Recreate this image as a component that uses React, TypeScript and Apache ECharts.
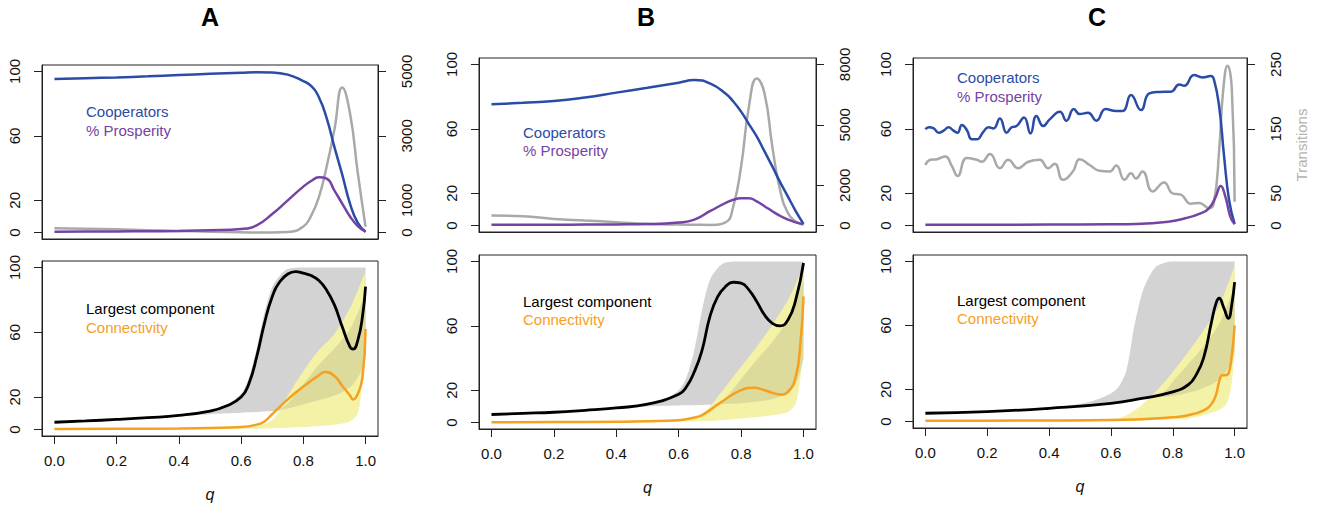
import { useEffect, useRef } from "react";
import * as echarts from "echarts";

// ---------- Top panels (left axis %, right axis transitions) ----------
const qA_top = [0, 0.1, 0.2, 0.3, 0.4, 0.5, 0.6, 0.65, 0.7, 0.75, 0.8, 0.825, 0.85, 0.875, 0.9, 0.925, 0.95, 0.975, 1.0];
const coopA = [95.3, 95.8, 96.3, 97, 97.8, 98.5, 99.2, 99.5, 99.4, 98, 94, 91, 84, 71, 53, 36, 18, 6, 0.5];
const prospA = [0.5, 0.6, 0.7, 0.8, 1, 1.4, 2.2, 4.5, 11.5, 20, 28.5, 32, 34.3, 33.5, 26, 18, 10, 4, 0.5];
const transA = [135, 120, 100, 75, 50, 25, 8, 3, 2, 15, 190, 520, 1100, 2050, 3200, 4500, 3700, 1850, 180];

const qB_top = [0, 0.1, 0.2, 0.3, 0.4, 0.5, 0.6, 0.65, 0.7, 0.75, 0.775, 0.8, 0.825, 0.85, 0.875, 0.9, 0.925, 0.95, 0.975, 1.0];
const coopB = [75.3, 76.2, 77.3, 79.5, 82.5, 85.5, 88.7, 90.3, 88.2, 82, 77, 70.7, 63, 55.3, 46, 36.7, 27, 18, 9, 1];
const prospB = [0.5, 0.5, 0.5, 0.6, 0.7, 0.9, 1.9, 3.7, 8.9, 14, 16, 16.9, 17, 15, 12, 8.9, 6, 3.7, 2, 1];
const transB = [496, 464, 328, 248, 168, 80, 48, 40, 32, 160, 960, 2936, 5904, 7304, 6560, 3920, 1760, 624, 200, 48];

const qC_coop = [0, 0.011, 0.027, 0.043, 0.059, 0.075, 0.091, 0.104, 0.118, 0.134, 0.15, 0.166, 0.188, 0.204, 0.22, 0.241, 0.263, 0.279, 0.295, 0.319, 0.34, 0.359, 0.381, 0.402, 0.435, 0.456, 0.48, 0.499, 0.526, 0.553, 0.583, 0.617, 0.638, 0.665, 0.697, 0.724, 0.756, 0.794, 0.821, 0.837, 0.869, 0.896, 0.923, 0.933, 0.95, 0.966, 0.982, 1.0];
const coopC = [59.7, 61.0, 60.3, 57.6, 58.9, 61.0, 58.9, 57.6, 62.4, 59.3, 53.5, 53.5, 58.3, 61.0, 60.3, 66.5, 57.6, 61.0, 61.8, 67.1, 57.2, 68.0, 61.8, 65.9, 70.7, 65.1, 72.3, 69.2, 70.0, 65.1, 72.3, 71.1, 71.1, 81.0, 71.7, 82.0, 82.9, 83.1, 87.6, 86.8, 93.4, 91.9, 92.8, 90.7, 73.8, 42.8, 15.9, 1.0];
const qC_trans = [0, 0.016, 0.038, 0.064, 0.086, 0.104, 0.134, 0.166, 0.182, 0.209, 0.241, 0.268, 0.3, 0.333, 0.37, 0.397, 0.418, 0.445, 0.477, 0.499, 0.531, 0.563, 0.596, 0.617, 0.644, 0.665, 0.681, 0.702, 0.735, 0.772, 0.799, 0.826, 0.858, 0.885, 0.917, 0.933, 0.95, 0.963, 0.977, 0.991, 1.0];
const transC = [94, 102, 103, 107, 92, 77, 105, 102, 99, 111, 89, 102, 89, 99, 102, 89, 96, 71, 84, 103, 94, 85, 84, 93, 71, 81, 73, 84, 53, 67, 50, 48, 34, 35, 27, 35, 117, 210, 248, 210, 37];
const qC_prosp = [0, 0.2, 0.4, 0.6, 0.68, 0.79, 0.84, 0.89, 0.917, 0.938, 0.955, 0.97, 0.986, 1.0];
const prospC = [0.5, 0.5, 0.6, 0.8, 1, 2.5, 4.5, 7.6, 10.7, 17.5, 24.5, 18, 5.6, 0.8];

// ---------- Bottom panels ----------
const qBand = [0, 0.1, 0.2, 0.3, 0.4, 0.5, 0.55, 0.6, 0.625, 0.65, 0.675, 0.7, 0.725, 0.75, 0.8, 0.85, 0.9, 0.95, 0.975, 0.99, 1.0];

const qA_lc = [0, 0.1, 0.2, 0.3, 0.4, 0.5, 0.55, 0.6, 0.625, 0.65, 0.675, 0.7, 0.725, 0.75, 0.775, 0.8, 0.825, 0.85, 0.875, 0.9, 0.925, 0.95, 0.96, 0.975, 0.99, 1.0];
const largestA = [4.5, 5.3, 6.2, 7.3, 8.7, 11.4, 14.3, 20, 28.3, 44.8, 65.5, 82, 91.3, 96, 97.5, 96.5, 95, 92, 86, 76.9, 63.4, 51, 49.6, 55, 69.6, 88.2];
const qA_con = [0, 0.2, 0.4, 0.5, 0.6, 0.65, 0.675, 0.7, 0.75, 0.8, 0.85, 0.87, 0.9, 0.925, 0.95, 0.96, 0.975, 0.99, 1.0];
const connA = [0.3, 0.4, 0.6, 0.9, 1.5, 3, 5, 9.5, 18.6, 26.5, 33.5, 35.5, 33, 27, 21, 18.5, 22, 32, 62];
const grayLoA = [4.5, 5.2, 6, 7, 8.2, 9.5, 10, 10.4, 10.6, 10.8, 11.1, 11.4, 11.8, 12.3, 13.4, 15, 17, 22, 28, 36, 47];
const grayHiA = [4.7, 5.5, 6.4, 7.6, 9.2, 12, 15, 22, 32, 50, 72, 88, 95, 99, 100, 100, 100, 100, 100, 100, 100];
const yelLoA = [0, 0, 0, 0, 0.1, 0.2, 0.3, 0.4, 0.45, 0.5, 0.6, 0.8, 0.9, 1.1, 1.5, 2.2, 3, 5, 10, 30, 45];
const yelHiA = [0.2, 0.3, 0.4, 0.5, 0.7, 1, 1.2, 1.5, 1.8, 2, 3.5, 6, 12, 21, 36, 49, 59, 75, 86, 93, 97.5];
const qOliveA = [0.72, 0.75, 0.8, 0.85, 0.9, 0.95, 0.975, 0.99, 1.0];
const oliveLoA = [12, 13, 15.5, 18, 21, 26, 32, 38, 45];
const oliveHiA = [12, 16, 28, 40, 50, 62, 72, 80, 86];

const qB_lc = [0, 0.1, 0.2, 0.3, 0.4, 0.5, 0.6, 0.625, 0.65, 0.675, 0.7, 0.725, 0.75, 0.775, 0.8, 0.825, 0.85, 0.875, 0.9, 0.925, 0.95, 0.975, 1.0];
const largestB = [5, 5.7, 6.4, 7.6, 9.1, 11.4, 17.6, 22.2, 31.5, 45, 65.8, 78.2, 84.4, 87.1, 86.5, 82.4, 75.1, 66.8, 61.6, 60, 63.7, 76.1, 99];
const qB_con = [0, 0.2, 0.4, 0.5, 0.6, 0.65, 0.675, 0.7, 0.75, 0.8, 0.84, 0.875, 0.9, 0.925, 0.95, 0.975, 0.99, 1.0];
const connB = [0.2, 0.3, 0.5, 0.8, 1.5, 3.1, 4.6, 7.7, 14.5, 20.1, 21.6, 20.1, 18.5, 17.4, 19.1, 28.4, 49, 78.2];
const grayLoB = [5, 5.6, 6.3, 7.4, 8.8, 10, 10.4, 10.6, 10.7, 10.8, 10.9, 11, 11.1, 11.3, 11.8, 12.5, 13.9, 20, 28.4, 40, 55];
const grayHiB = [5.2, 5.9, 6.6, 7.8, 9.4, 12, 14, 20, 28, 45, 70, 88.6, 96, 99.4, 100, 100, 100, 100, 100, 100, 100];
const yelLoB = [0, 0, 0, 0, 0, 0.2, 0.3, 0.5, 0.6, 0.7, 0.8, 1, 1.3, 1.6, 2.5, 3.5, 4.6, 6.6, 11.8, 28, 45];
const yelHiB = [0.2, 0.3, 0.4, 0.5, 0.7, 1, 1.3, 1.6, 2, 2.5, 5.5, 9.8, 16, 22.2, 34.6, 47.1, 60.6, 76.1, 86, 93, 96];
const qOliveB = [0.72, 0.75, 0.8, 0.85, 0.9, 0.95, 0.975, 0.99, 1.0];
const oliveLoB = [11, 11.5, 12, 13, 14.5, 18, 24, 32, 40];
const oliveHiB = [11, 15, 27, 39, 50, 64, 75, 83, 88];

const qC_lc = [0, 0.2, 0.4, 0.6, 0.7, 0.8, 0.85, 0.875, 0.9, 0.925, 0.94, 0.95, 0.965, 0.98, 0.99, 1.0];
const largestC = [5.2, 6.2, 8.3, 11.4, 14.5, 18.5, 23, 29, 40, 62, 74, 77, 71, 64.5, 72, 87];
const qC_con = [0, 0.2, 0.4, 0.6, 0.8, 0.85, 0.9, 0.925, 0.94, 0.95, 0.96, 0.97, 0.98, 0.99, 1.0];
const connC = [0.5, 0.6, 0.7, 1, 2.7, 4, 7, 11, 17, 25, 29, 29, 30, 40, 60];
const grayLoC = [5, 5.6, 6, 7, 8, 9.6, 10.5, 11.2, 11.8, 12.5, 13.2, 14, 14.8, 15.5, 17, 19, 22, 30, 36, 42, 45];
const grayHiC = [5.3, 6, 6.6, 7.6, 8.8, 11, 13.5, 17.6, 21.7, 32, 59, 79.7, 91, 97.3, 100, 100, 100, 100, 100, 100, 100];
const yelLoC = [0, 0, 0, 0, 0, 0.1, 0.2, 0.3, 0.4, 0.5, 0.6, 0.7, 0.8, 1, 1.4, 2, 4.1, 7.2, 11.4, 23.8, 42.4];
const yelHiC = [0.2, 0.3, 0.4, 0.5, 0.6, 0.8, 0.9, 1, 2, 4, 7, 10.4, 15, 19.7, 31, 43.5, 57, 72.5, 84, 92, 97.3];
const qOliveC = [0.74, 0.78, 0.8, 0.85, 0.9, 0.95, 0.975, 0.99, 1.0];
const oliveLoC = [15, 15.5, 16, 18, 21, 26, 32, 38, 44];
const oliveHiC = [15, 20, 25, 36, 47, 61, 72, 80, 86];

// ---------- Axes ticks ----------
const xTicks = [0, 0.2, 0.4, 0.6, 0.8, 1.0];
const leftTicks = [0, 20, 60, 100];
const rightTicksA = [0, 1000, 3000, 5000];
const rightTicksB = [0, 2000, 5000, 8000];
const rightTicksC = [0, 50, 150, 250];
const rightScale = [50, 80, 2.5];
const panelTitles = ["A", "B", "C"];

const FONT = "'Liberation Sans', Arial, Helvetica, sans-serif";
const BLUE = "#2b4ca6";
const PURPLE = "#7443a3";
const TGRAY = "#a9a9a9";
const ORANGE = "#f5a01f";
const GRAYBAND = "#d3d3d3";
const YELBAND = "#f4f2a6";
const OLIVE = "#dddb9c";

const zip = (xs: number[], ys: number[]) => xs.map((x, i) => [x, ys[i]]);
// value first, q second: lets the stack work on the value dimension
const zipYX = (xs: number[], ys: number[]) => xs.map((x, i) => [ys[i], x]);

function lineSeries(idx: number, yIdx: number, xs: number[], ys: number[], color: string, width: number, smooth = 0.5) {
  return {
    type: "line",
    xAxisIndex: idx,
    yAxisIndex: yIdx,
    data: zip(xs, ys),
    smooth,
    symbol: "none",
    silent: true,
    z: 5,
    lineStyle: { color, width },
  };
}

function bandSeries(idx: number, xs: number[], lo: number[], hi: number[], color: string, id: string, z: number) {
  const common = {
    type: "line",
    xAxisIndex: idx,
    yAxisIndex: idx,
    stack: id,
    encode: { x: 1, y: 0 },
    smooth: 0.3,
    symbol: "none",
    silent: true,
    z,
    lineStyle: { width: 0, opacity: 0 },
  };
  return [
    { ...common, data: zipYX(xs, lo) },
    { ...common, data: zipYX(xs, hi.map((h, i) => h - lo[i])), areaStyle: { color, opacity: 1 } },
  ];
}

export default function App() {
  const ref = useRef<HTMLDivElement>(null);
  useEffect(() => {
    const chart = echarts.init(ref.current!, null, { renderer: "svg" });

    const grids = [
      { left: 42, top: 65, width: 336, height: 174 },
      { left: 479, top: 58, width: 337, height: 174 },
      { left: 913, top: 58, width: 334, height: 174 },
      { left: 42, top: 261, width: 336, height: 175 },
      { left: 479, top: 255, width: 337, height: 174 },
      { left: 913, top: 255, width: 334, height: 173 },
    ].map((g) => ({ ...g, show: true, borderColor: "#222", borderWidth: 1, backgroundColor: "transparent" }));

    const labelStyle = { fontSize: 15, color: "#111", fontFamily: FONT };

    const xAxis = grids.map((_, i) => {
      const bottom = i >= 3;
      return {
        type: "value",
        gridIndex: i,
        min: -0.04,
        max: 1.04,
        axisLine: { show: true, onZero: false, lineStyle: { color: "#222", width: 1 } },
        axisTick: bottom
          ? { show: true, customValues: xTicks, length: 8, lineStyle: { color: "#222" } }
          : { show: false },
        axisLabel: bottom
          ? { show: true, customValues: xTicks, formatter: (v: number) => v.toFixed(1), margin: 17, ...labelStyle }
          : { show: false },
        splitLine: { show: false },
        name: bottom ? "q" : "",
        nameLocation: "middle",
        nameGap: 50,
        nameTextStyle: { fontStyle: "italic", fontSize: 16, fontFamily: FONT, color: "#111" },
      };
    });

    const yLeft = grids.map((_, i) => ({
      type: "value",
      gridIndex: i,
      position: "left",
      min: -4,
      max: 104,
      axisLine: { show: true, onZero: false, lineStyle: { color: "#222", width: 1 } },
      axisTick: { show: true, customValues: leftTicks, length: 8, lineStyle: { color: "#222" } },
      axisLabel: { show: true, customValues: leftTicks, rotate: 90, margin: 20, formatter: (v: number) => String(v), ...labelStyle },
      splitLine: { show: false },
    }));

    const rTicks = [rightTicksA, rightTicksB, rightTicksC];
    const yRight = [0, 1, 2].map((i) => ({
      type: "value",
      gridIndex: i,
      position: "right",
      min: -4 * rightScale[i],
      max: 104 * rightScale[i],
      axisLine: { show: true, onZero: false, lineStyle: { color: "#222", width: 1 } },
      axisTick: { show: true, customValues: rTicks[i], length: 8, lineStyle: { color: "#222" } },
      axisLabel: { show: true, customValues: rTicks[i], rotate: 90, margin: 21, formatter: (v: number) => String(Math.round(v)), ...labelStyle },
      splitLine: { show: false },
      name: i === 2 ? "Transitions" : "",
      nameLocation: "middle",
      nameRotate: 90,
      nameGap: 47,
      nameTextStyle: { color: "#b3b3b3", fontSize: 15, fontFamily: FONT },
    }));

    const series: any[] = [
      // A top
      lineSeries(0, 6, qA_top, transA, TGRAY, 2.5),
      lineSeries(0, 0, qA_top, coopA, BLUE, 2.5),
      lineSeries(0, 0, qA_top, prospA, PURPLE, 2.5),
      // B top
      lineSeries(1, 7, qB_top, transB, TGRAY, 2.5),
      lineSeries(1, 1, qB_top, coopB, BLUE, 2.5),
      lineSeries(1, 1, qB_top, prospB, PURPLE, 2.5),
      // C top
      lineSeries(2, 8, qC_trans, transC, TGRAY, 2.5),
      lineSeries(2, 2, qC_coop, coopC, BLUE, 2.5),
      lineSeries(2, 2, qC_prosp, prospC, PURPLE, 2.5),
      // A bottom
      ...bandSeries(3, qBand, grayLoA, grayHiA, GRAYBAND, "gA", 1),
      ...bandSeries(3, qBand, yelLoA, yelHiA, YELBAND, "yA", 2),
      ...bandSeries(3, qOliveA, oliveLoA, oliveHiA, OLIVE, "oA", 3),
      lineSeries(3, 3, qA_lc, largestA, "#000", 2.8),
      lineSeries(3, 3, qA_con, connA, ORANGE, 2.5),
      // B bottom
      ...bandSeries(4, qBand, grayLoB, grayHiB, GRAYBAND, "gB", 1),
      ...bandSeries(4, qBand, yelLoB, yelHiB, YELBAND, "yB", 2),
      ...bandSeries(4, qOliveB, oliveLoB, oliveHiB, OLIVE, "oB", 3),
      lineSeries(4, 4, qB_lc, largestB, "#000", 2.8),
      lineSeries(4, 4, qB_con, connB, ORANGE, 2.5),
      // C bottom
      ...bandSeries(5, qBand, grayLoC, grayHiC, GRAYBAND, "gC", 1),
      ...bandSeries(5, qBand, yelLoC, yelHiC, YELBAND, "yC", 2),
      ...bandSeries(5, qOliveC, oliveLoC, oliveHiC, OLIVE, "oC", 3),
      lineSeries(5, 5, qC_lc, largestC, "#000", 2.8),
      lineSeries(5, 5, qC_con, connC, ORANGE, 2.5),
    ];

    const txt = (text: string, x: number, y: number, fill: string, size = 15, bold = false, align = "left") => ({
      type: "text",
      x,
      y,
      silent: true,
      style: {
        text,
        fill,
        fontSize: size,
        fontFamily: FONT,
        fontWeight: bold ? "bold" : "normal",
        textAlign: align,
        textVerticalAlign: "middle",
      },
    });

    const titleX = [210, 646, 1097];
    const graphic = [
      ...panelTitles.map((t, i) => txt(t, titleX[i], 17, "#000", 25, true, "center")),
      txt("Cooperators", 86, 111, BLUE),
      txt("% Prosperity", 86, 130, PURPLE),
      txt("Cooperators", 523, 132, BLUE),
      txt("% Prosperity", 523, 150, PURPLE),
      txt("Cooperators", 957, 77, BLUE),
      txt("% Prosperity", 957, 96, PURPLE),
      txt("Largest component", 86, 308, "#000"),
      txt("Connectivity", 86, 327, ORANGE),
      txt("Largest component", 523, 301, "#000"),
      txt("Connectivity", 523, 319, ORANGE),
      txt("Largest component", 957, 300, "#000"),
      txt("Connectivity", 957, 318, ORANGE),
    ];

    chart.setOption({
      animation: false,
      backgroundColor: "#fff",
      grid: grids,
      xAxis,
      yAxis: [...yLeft, ...yRight],
      series,
      graphic,
    });
    return () => chart.dispose();
  }, []);
  return <div ref={ref} style={{ position: "absolute", left: 0, top: 0, width: 1319, height: 505 }} />;
}
